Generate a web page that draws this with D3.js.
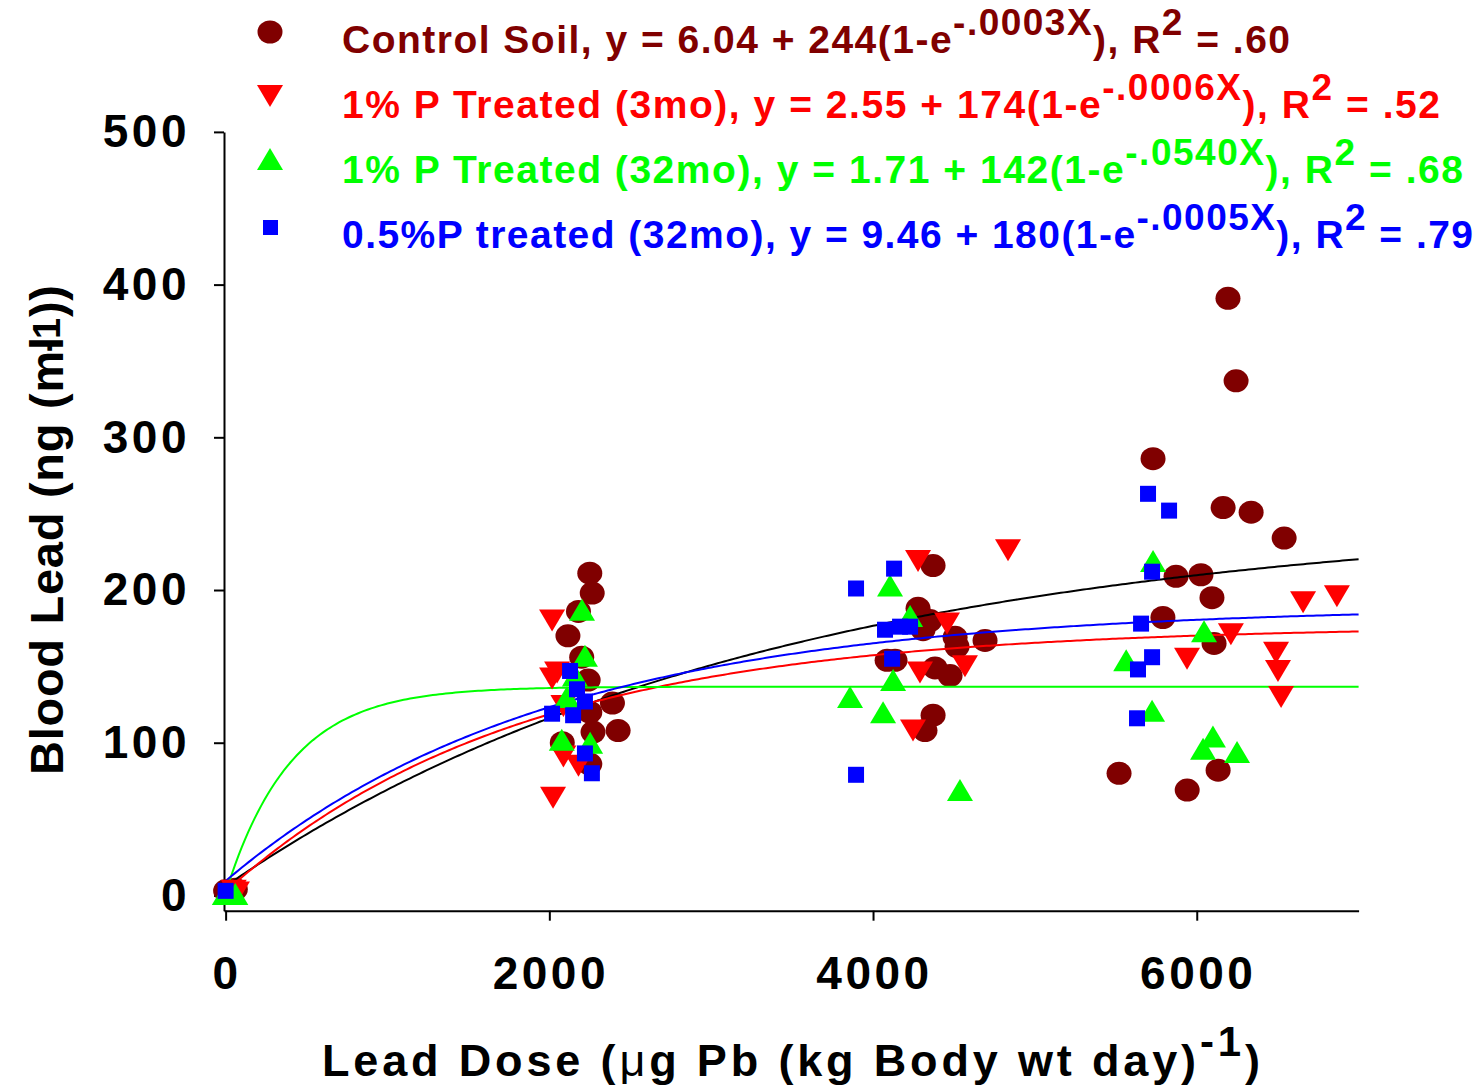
<!DOCTYPE html>
<html>
<head>
<meta charset="utf-8">
<script src="https://cdn.jsdelivr.net/npm/d3@7"></script>
<style>
body { margin: 0; background: #fff; }
svg { display: block; font-family: "Liberation Sans", Arial, sans-serif; font-weight: bold; }
</style>
</head>
<body>
<div class="chart"></div>
<script>
// ---- data ----
var controlX = [0, 60, 2250, 2265, 2180, 2115, 2200, 2240, 2390, 2250, 2270, 2425, 2080, 2250,
    4371, 4278, 4352, 4309, 4507, 4519, 4692, 4087, 4136, 4383, 4476, 4371, 4321,
    6193, 6243, 5730, 6163, 6336, 6540, 5872, 6026, 6094, 5791, 6107, 5520, 6132, 5941];
var controlY = [3, 4, 211, 198, 186, 170, 156, 141, 126, 120, 107, 108, 100, 86,
    216, 188, 180, 174, 169, 163, 167, 154, 154, 149, 144, 118, 108,
    391, 337, 286, 254, 251, 234, 209, 210, 195, 182, 165, 80, 82, 69];

var p3moX = [50, 70, 2017, 2048, 2017, 2087, 2087, 2180, 2023,
    4278, 4834, 4457, 4290, 4568, 4247,
    6657, 6866, 6211, 5940, 6490, 6502, 6521];
var p3moY = [3, 2, 180, 146, 142, 124, 91, 85, 64,
    219, 226, 178, 146, 150, 108,
    192, 196, 171, 155, 159, 147, 130];

var p32moX = [-5, 60, 2202, 2220, 2158, 2109, 2077, 2252,
    4105, 4229, 4124, 3858, 4062, 4537,
    5730, 6045, 5564, 5724, 6100, 6039, 6249];
var p32moY = [1, 1, 187, 157, 144, 130, 102, 100,
    203, 183, 141, 130, 120, 69,
    219, 173, 154, 121, 104, 96, 94];

var halfPX = [0, 2128, 2171, 2220, 2017, 2147, 2220, 2263,
    4130, 3895, 4074, 4167, 4229, 4118, 3895,
    5699, 5829, 5724, 5656, 5724, 5637, 5631];
var halfPY = [3, 147, 135, 127, 119, 118, 93, 80,
    214, 201, 174, 176, 176, 155, 79,
    263, 252, 212, 178, 156, 148, 116];

// fitted curves y = a + b(1 - e^(-cX)); order: control, 3mo, 32mo, 0.5%P
var fitA = [6.04, 2.55, 1.71, 9.46];
var fitB = [244, 174, 135, 180];
var fitC = [0.0003, 0.00055, 0.0025, 0.0005];

var seriesNames = ["Control Soil", "1% P Treated (3mo)", "1% P Treated (32mo)", "0.5%P treated (32mo)"];
var eqA = ["6.04", "2.55", "1.71", "9.46"];
var eqB = ["244", "174", "142", "180"];
var eqExp = ["-.0003X", "-.0006X", "-.0540X", "-.0005X"];
var eqR2 = [".60", ".52", ".68", ".79"];

var yTicks = [0, 100, 200, 300, 400, 500];
var xTicks = [0, 2000, 4000, 6000];

// ==================================

var w = 1479;
var h = 1091;
var markColors = ["#800000", "#ff0000", "#00ff00", "#0000ff"];
var lineColors = ["#000000", "#ff0000", "#00ff00", "#0000ff"];

var svg = d3.select(".chart")
    .append("svg")
    .attr("width", w)
    .attr("height", h);

var x = d3.scaleLinear().domain([-10, 7000]).range([224, 1358.6]);
var y = d3.scaleLinear().domain([-10, 500]).range([910.7, 131.9]);

var fitWidth = function(sel, target) {
    var node = sel.node();
    var n = node.textContent.length;
    sel.attr("letter-spacing", 0);
    var bw = node.getBBox().width;
    sel.attr("letter-spacing", (target - bw) / (n - 1));
};

var triPath = function(up) {
    var tw = 26, th = 22;
    if (up) {
        return "M0," + (-th / 2) + "L" + (tw / 2) + "," + (th / 2) + "L" + (-tw / 2) + "," + (th / 2) + "Z";
    }
    return "M" + (-tw / 2) + "," + (-th / 2) + "L" + (tw / 2) + "," + (-th / 2) + "L0," + (th / 2) + "Z";
};

// axes
var yAxis = d3.axisLeft(y).tickValues(yTicks).tickSize(10).tickSizeOuter(0).tickPadding(24);
var xAxis = d3.axisBottom(x).tickValues(xTicks).tickFormat(d3.format("d"))
    .tickSize(10).tickSizeOuter(0).tickPadding(36);

var gy = svg.append("g").attr("transform", "translate(224,0)").call(yAxis);
var gx = svg.append("g").attr("transform", "translate(0,910.7)").call(xAxis);

[gx, gy].forEach(function(g) {
    g.select(".domain").attr("stroke", "#000").attr("stroke-width", 2);
    g.selectAll(".tick line").attr("stroke", "#000").attr("stroke-width", 2);
    g.selectAll(".tick text")
        .attr("fill", "#000")
        .style("font-family", "'Liberation Sans', Arial, sans-serif")
        .style("font-weight", "bold")
        .style("font-size", "46px")
        .attr("letter-spacing", 3.5);
});
gx.selectAll(".tick text").attr("dx", 1);

// control circles (under the curves)
svg.append("g").selectAll("ellipse")
    .data(d3.zip(controlX, controlY))
    .enter()
    .append("ellipse")
    .attr("cx", function(d) { return x(d[0]); })
    .attr("cy", function(d) { return y(d[1]); })
    .attr("rx", 12.5)
    .attr("ry", 11.5)
    .attr("fill", markColors[0]);

// fit curves
var line = d3.line()
    .x(function(d) { return x(d[0]); })
    .y(function(d) { return y(d[1]); });

for (var k = 0; k < 4; k++) {
    var pts = d3.range(0, 7001, 20).map(function(xv) {
        return [xv, fitA[k] + fitB[k] * (1 - Math.exp(-fitC[k] * xv))];
    });
    svg.append("path")
        .attr("d", line(pts))
        .attr("fill", "none")
        .attr("stroke", lineColors[k])
        .attr("stroke-width", 2);
}

// treated series
svg.append("g").selectAll("path")
    .data(d3.zip(p3moX, p3moY))
    .enter()
    .append("path")
    .attr("d", triPath(false))
    .attr("transform", function(d) { return "translate(" + x(d[0]) + "," + y(d[1]) + ")"; })
    .attr("fill", markColors[1]);

svg.append("g").selectAll("path")
    .data(d3.zip(p32moX, p32moY))
    .enter()
    .append("path")
    .attr("d", triPath(true))
    .attr("transform", function(d) { return "translate(" + x(d[0]) + "," + y(d[1]) + ")"; })
    .attr("fill", markColors[2]);

svg.append("g").selectAll("rect")
    .data(d3.zip(halfPX, halfPY))
    .enter()
    .append("rect")
    .attr("x", function(d) { return x(d[0]) - 8; })
    .attr("y", function(d) { return y(d[1]) - 8; })
    .attr("width", 16)
    .attr("height", 16)
    .attr("fill", markColors[3]);

// legend
var legendBase = [53, 118, 183, 248];
var legendEnds = [1290, 1440, 1463, 1473];

for (var i = 0; i < 4; i++) {
    var my = legendBase[i] - 20;
    if (i === 0) {
        svg.append("ellipse").attr("cx", 270).attr("cy", my - 1).attr("rx", 12.5).attr("ry", 11.5).attr("fill", markColors[0]);
    } else if (i === 3) {
        svg.append("rect").attr("x", 263).attr("y", my - 8).attr("width", 15).attr("height", 15).attr("fill", markColors[3]);
    } else {
        svg.append("path").attr("d", triPath(i === 2)).attr("transform", "translate(270," + (my + (i === 2 ? -4 : -2)) + ")").attr("fill", markColors[i]);
    }

    var t = svg.append("text")
        .attr("x", 342)
        .attr("y", legendBase[i])
        .attr("fill", markColors[i])
        .style("font-size", "39px");
    t.append("tspan").text(seriesNames[i] + ", y = " + eqA[i] + " + " + eqB[i] + "(1-e");
    t.append("tspan").attr("dy", -18).style("font-size", "37px").text(eqExp[i]);
    t.append("tspan").attr("dy", 18).text("), R");
    t.append("tspan").attr("dy", -18).style("font-size", "37px").text("2");
    t.append("tspan").attr("dy", 18).text(" = " + eqR2[i]);
    fitWidth(t, legendEnds[i] - 342);
}

// axis titles
var xt = svg.append("text")
    .attr("x", 322)
    .attr("y", 1076)
    .attr("fill", "#000")
    .style("font-size", "45px");
xt.append("tspan").text("Lead Dose (");
xt.append("tspan").style("font-weight", "normal").text("\u03bc");
xt.append("tspan").text("g Pb (kg Body wt day)");
xt.append("tspan").attr("dy", -20).style("font-size", "42px").text("-1");
xt.append("tspan").attr("dy", 20).text(")");
fitWidth(xt, 938);

var yt = svg.append("text")
    .attr("transform", "translate(63,775) rotate(-90)")
    .attr("fill", "#000")
    .style("font-size", "47px");
yt.append("tspan").text("Blood Lead (ng (ml");
yt.append("tspan").attr("dx", -16).attr("dy", -3).style("font-size", "38px").text("-1");
yt.append("tspan").attr("dy", 3).text("))");
fitWidth(yt, 490);
</script>
</body>
</html>
